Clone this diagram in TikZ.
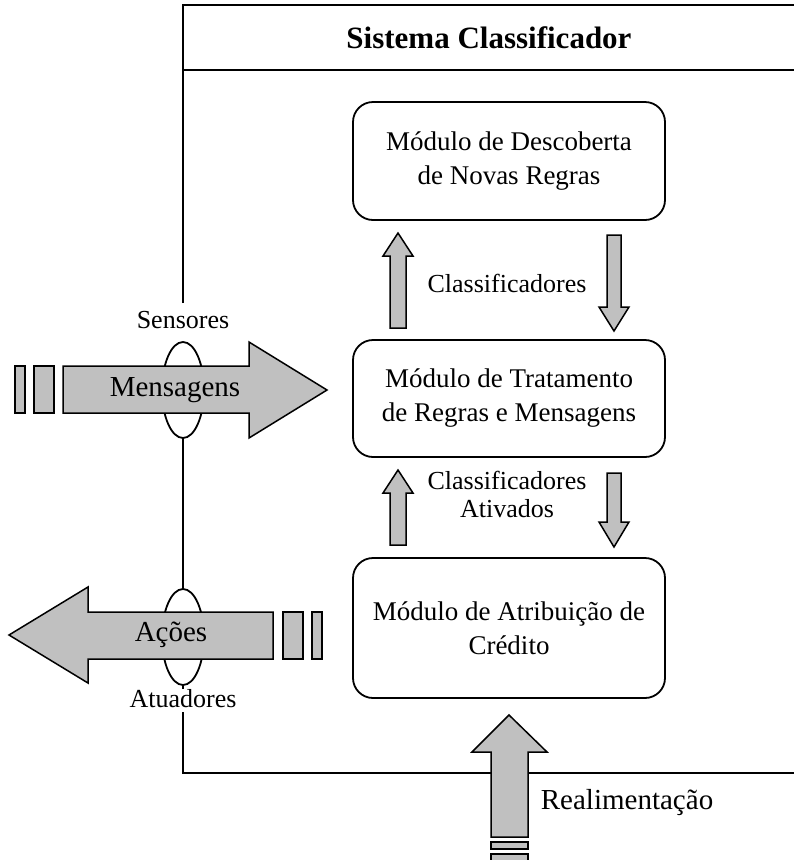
\documentclass[tikz,border=0pt]{standalone}
\usepackage{fontspec}
\setmainfont{Liberation Serif}
\definecolor{arrgray}{HTML}{C0C0C0}
\newcommand\fatup[4]{% cx, ybottom, ytip, yheadbase
  \draw[fat] (#1-8,#2) -- (#1-8,#4) -- (#1-15,#4) -- (#1,#3) -- (#1+15,#4) -- (#1+8,#4) -- (#1+8,#2) -- cycle;}
\newcommand\fatdown[4]{% cx, ytop, ytip, yheadbase
  \draw[fat] (#1-7,#2) -- (#1-7,#4) -- (#1-15,#4) -- (#1,#3) -- (#1+15,#4) -- (#1+7,#4) -- (#1+7,#2) -- cycle;}
\begin{document}
\begin{tikzpicture}[x=1pt,y=-1pt,line width=1.8pt,
  modbox/.style={draw, rounded corners=20pt, minimum width=312pt, align=center,
    font=\fontsize{27}{34}\selectfont, inner sep=0pt},
  lbl/.style={font=\fontsize{26}{28}\selectfont, align=center, inner sep=0pt},
  big/.style={font=\fontsize{29}{33}\selectfont, inner sep=0pt},
  fat/.style={draw, fill=arrgray, line width=1.5pt, line join=miter}]
\useasboundingbox (0,0) rectangle (794,860);
% frame
\coordinate (ftl) at (183,5);
\coordinate (ftr) at (796,5);
\draw (183,303) -- (ftl) -- (ftr);
\draw (183,70) -- (796,70);
\node[font=\bfseries\fontsize{31}{36}\selectfont, inner sep=0pt] (title) at (489,38) {Sistema Classificador};
% ellipses (sensors / actuators)
\draw (183,438) -- (183,590);
\draw (183,685) -- (183,689);
\draw (183,712) -- (183,773) -- (796,773);
\draw[fill=white] (183,390) ellipse [x radius=21pt, y radius=48pt];
\draw[fill=white] (183,637) ellipse [x radius=21pt, y radius=48pt];
\node[lbl] (sens) at (183,320) {Sensores};
\node[lbl] (atu) at (183,699) {Atuadores};
% modules
\node[modbox, minimum height=118pt] (b1) at (509,161) {Módulo de Descoberta\\de Novas Regras};
\node[modbox, minimum height=117pt] (b2) at (509,398.5) {Módulo de Tratamento\\de Regras e Mensagens};
\node[modbox, minimum height=140pt] (b3) at (509,628) {Módulo de Atribuição de\\Crédito};
% inner arrows
\fatup{398}{328}{233}{256}
\fatdown{614}{235}{331}{307}
\node[lbl] (c1) at (507,283) {Classificadores};
\fatup{398}{545}{470}{493}
\fatdown{614}{473}{547}{522}
\node[lbl] (c2) at (507,494) {Classificadores\\Ativados};
% Mensagens arrow
\draw[fat] (15,366) rectangle (25,413);
\draw[fat] (34,366) rectangle (54,413);
\draw[fat] (63,366) -- (249,366) -- (249,342) -- (327,390) -- (249,438) -- (249,413) -- (63,413) -- cycle;
\node[big] (msg) at (175,390) {Mensagens};
% Acoes arrow
\draw[fat] (283,612) rectangle (303,659);
\draw[fat] (312,612) rectangle (322,659);
\draw[fat] (273,612) -- (88,612) -- (88,587) -- (9,635) -- (88,683) -- (88,659) -- (273,659) -- cycle;
\node[big] (acoes) at (171,635) {Ações};
% Realimentacao arrow
\draw[fat] (491,837) -- (491,752) -- (472,752) -- (509,715) -- (547,752) -- (528,752) -- (528,837) -- cycle;
\draw[fat] (491,842) rectangle (528,849);
\draw[fat] (491,854) rectangle (528,862);
\node[big, anchor=west] (real) at (540,803) {Realimentação};
\end{tikzpicture}
\end{document}
